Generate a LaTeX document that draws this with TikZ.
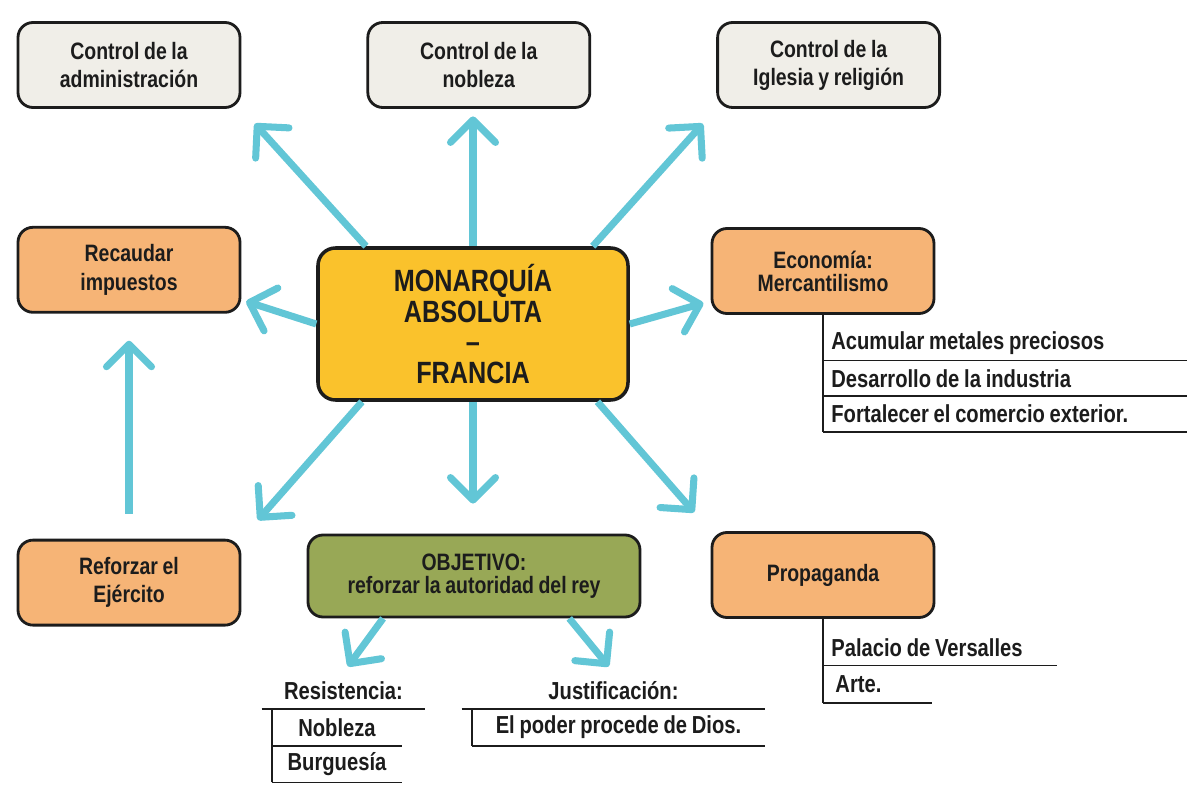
\documentclass[tikz,border=0pt]{standalone}
\usepackage{fontspec}
\setmainfont{Liberation Sans}[FakeStretch=0.82, WordSpace=0.85]
\usepackage{tikz}
\usetikzlibrary{arrows.meta, positioning}

\definecolor{arrowcyan}{RGB}{98,198,214}
\definecolor{boxgray}{RGB}{240,238,232}
\definecolor{boxorange}{RGB}{246,180,118}
\definecolor{boxyellow}{RGB}{250,194,44}
\definecolor{boxgreen}{RGB}{152,168,86}
\definecolor{inkdark}{RGB}{28,28,28}

\begin{document}
\begin{tikzpicture}[
      % box styles
      topic/.style={rectangle, rounded corners=0.3cm, draw=inkdark, line width=1.6pt, minimum width=4.44cm, minimum height=1.7cm, align=center, font=\fontsize{13.5}{16}\selectfont\bfseries, text=inkdark},
      control/.style={topic, fill=boxgray},
      action/.style={topic, fill=boxorange},
      core/.style={rectangle, rounded corners=0.35cm, draw=inkdark, line width=2pt, fill=boxyellow, minimum width=6.2cm, minimum height=3.04cm, align=center, font=\fontsize{17.5}{17.5}\selectfont\bfseries, text=inkdark},
      goal/.style={topic, fill=boxgreen, minimum width=6.64cm, minimum height=1.64cm},
      tight/.style={font=\fontsize{13.5}{13}\selectfont\bfseries},
      % list styles
      item/.style={rectangle, inner xsep=0.16cm, inner ysep=0pt, minimum height=0.7cm, font=\fontsize{14}{16}\selectfont\bfseries, text=inkdark},
      listhead/.style={rectangle, inner xsep=0pt, inner ysep=0.18cm, text depth=0pt, font=\fontsize{14}{16}\selectfont\bfseries, text=inkdark},
      rule/.style={draw=inkdark, line width=1pt},
      arrow/.style={draw=arrowcyan, line width=4pt, -{Straight Barb[length=0.45cm, width=0.9cm, round]}}
    ]

    \path[use as bounding box, fill=white] (0,0) rectangle (23.84,-15.74);

    % Centre
    \node[core] (monarquia) at (9.46,-6.48) {MONARQUÍA\\ABSOLUTA\\–\\FRANCIA};

    % Top row
    \node[control] (admin) at (2.58,-1.3) {Control de la\\administración};
    \node[control, right=2.5cm of admin] (nobleza) {Control de la\\nobleza};
    \node[control, right=2.5cm of nobleza] (iglesia) {Control de la\\Iglesia y religión};

    % Left column
    \node[action, below=2.34cm of admin] (recaudar) {Recaudar\\impuestos};
    \node[action, below=4.5cm of recaudar] (reforzar) {Reforzar el\\Ejército};

    % Right column and bottom
    \node[action, tight] (economia) at (16.46,-5.42) {Economía:\\Mercantilismo};
    \node[action] (propaganda) at (16.46,-11.5) {Propaganda};
    \node[goal, tight] (objetivo) at (9.48,-11.52) {OBJETIVO:\\reforzar la autoridad del rey};

    % Economy list
    \node[item, text width=6.94cm, align=flush left, below right=0.2cm and 0cm of economia.south] (metales) {Acumular metales preciosos};
    \node[item, text width=6.94cm, align=flush left, below=0cm of metales] (industria) {Desarrollo de la industria};
    \node[item, text width=6.94cm, align=flush left, below=0cm of industria] (comercio) {Fortalecer el comercio exterior.};
    \draw[rule] (economia.south) -- (comercio.south west);
    \draw[rule] (metales.south west) -- (metales.south east);
    \draw[rule] (industria.south west) -- (industria.south east);
    \draw[rule] (comercio.south west) -- (comercio.south east);

    % Propaganda list
    \node[item, text width=4.34cm, align=flush left, below right=0.22cm and 0cm of propaganda.south] (versalles) {Palacio de Versalles};
    \node[item, text width=1.84cm, align=flush left, minimum height=0.74cm, below=0cm of versalles.south west, anchor=north west] (arte) {\,Arte.};
    \draw[rule] (propaganda.south) -- (arte.south west);
    \draw[rule] (versalles.south west) -- (versalles.south east);
    \draw[rule] (arte.south west) -- (arte.south east);

    % Resistance list
    \node[listhead, minimum width=3.26cm, anchor=south] (resistencia) at (6.87,-14.18) {Resistencia:};
    \node[item, minimum width=2.6cm, minimum height=0.72cm, below right=0cm and 0.2cm of resistencia.south west] (nobles) {Nobleza};
    \node[item, minimum width=2.6cm, minimum height=0.72cm, below=0cm of nobles] (burguesia) {Burguesía};
    \draw[rule] (resistencia.south west) -- (resistencia.south east);
    \draw[rule] (nobles.north west) -- (burguesia.south west);
    \draw[rule] (nobles.south west) -- (nobles.south east);
    \draw[rule] (burguesia.south west) -- (burguesia.south east);

    % Justification list
    \node[listhead, minimum width=6.06cm, anchor=south] (justificacion) at (12.27,-14.18) {Justificación:};
    \node[item, minimum width=5.86cm, minimum height=0.72cm, below right=0cm and 0.2cm of justificacion.south west] (dios) {El poder procede de Dios.};
    \draw[rule] (justificacion.south west) -- (justificacion.south east);
    \draw[rule] (dios.north west) -- (dios.south west);
    \draw[rule] (dios.south west) -- (dios.south east);

    % Arrows
    \draw[arrow, shorten >=0.4cm] (monarquia.144) -- (admin.south east);
    \draw[arrow, shorten >=0.15cm] (monarquia.north) -- (monarquia.north |- nobleza.south);
    \draw[arrow, shorten >=0.4cm] (monarquia.33) -- (iglesia.south west);
    \draw[arrow, shorten >=0.1cm] (monarquia.west) -- (recaudar.-15);
    \draw[arrow, shorten >=0.15cm] (monarquia.east) -- (economia.195);
    \draw[arrow, shorten >=0.5cm] (monarquia.215) -- (reforzar.north east);
    \draw[arrow, shorten >=0.6cm] (monarquia.south) -- (monarquia.south |- objetivo.north);
    \draw[arrow, shorten >=0.5cm] (monarquia.-32) -- (propaganda.north west);
    \draw[arrow, shorten <=0.5cm, shorten >=0.54cm] (reforzar.north) -- (recaudar.south);
    \draw[arrow, shorten >=0.15cm] (objetivo.205) -- (resistencia.north);
    \draw[arrow, shorten >=0.15cm] (objetivo.-24) -- (justificacion.north);

  \end{tikzpicture}
\end{document}
